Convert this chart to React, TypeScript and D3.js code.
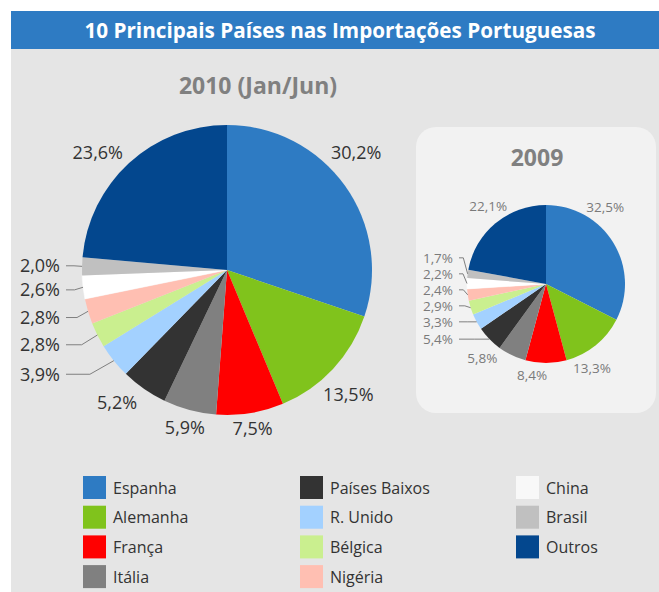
import React from "react";
import * as d3 from "d3";

const categories = [
  "Espanha",
  "Alemanha",
  "França",
  "Itália",
  "Países Baixos",
  "R. Unido",
  "Bélgica",
  "Nigéria",
  "China",
  "Brasil",
  "Outros",
];
const values2010 = [30.2, 13.5, 7.5, 5.9, 5.2, 3.9, 2.8, 2.8, 2.6, 2.0, 23.6];
const values2009 = [32.5, 13.3, 8.4, 5.8, 5.4, 3.3, 2.9, 2.4, 2.2, 1.7, 22.1];
const colors = [
  "#2e7bc3",
  "#80c31c",
  "#ff0000",
  "#808080",
  "#333333",
  "#a3d1ff",
  "#caef8f",
  "#ffbfb2",
  "#ffffff",
  "#c0c0c0",
  "#03478e",
];
const legendColors = colors.map((c) => (c === "#ffffff" ? "#f8f8f8" : c));
const title = "10 Principais Países nas Importações Portuguesas";
const subtitle2010 = "2010 (Jan/Jun)";
const subtitle2009 = "2009";

const FONT = "'Open Sans', 'Noto Sans', sans-serif";

const fmt = (v: number) => v.toFixed(1).replace(".", ",") + "%";

type PieProps = {
  values: number[];
  cx: number;
  cy: number;
  r: number;
  fs: number;
  textColor: string;
  leaderFrom: number;
  leaderK: number;
  gap: number;
  labelRight: number;
  nudge: number[];
  distA: number;
  distB: number;
};

function PieChart(p: PieProps) {
  const pie = d3
    .pie<number>()
    .sort(null)
    .value((d) => d);
  const arcs = pie(p.values);
  const arcGen = d3.arc<d3.PieArcDatum<number>>().innerRadius(0).outerRadius(p.r);

  const leaderIdx = arcs.map((_, i) => i).filter((i) => i >= p.leaderFrom && i < arcs.length - 1);
  const ly: Record<number, number> = {};
  const anchor: Record<number, [number, number]> = {};
  leaderIdx.forEach((i) => {
    const a = arcs[i];
    const mid = (a.startAngle + a.endAngle) / 2;
    const ax = p.cx + p.r * Math.sin(mid);
    const ay = p.cy - p.r * Math.cos(mid);
    anchor[i] = [ax, ay];
    ly[i] = p.cy + p.leaderK * (ay - p.cy);
  });
  for (let k = 1; k < leaderIdx.length; k++) {
    const i = leaderIdx[k];
    const prev = leaderIdx[k - 1];
    ly[i] = Math.min(ly[i], ly[prev] - p.gap);
  }

  return (
    <g>
      {arcs.map((a, i) => (
        <path
          key={i}
          d={arcGen(a) || ""}
          transform={`translate(${p.cx},${p.cy})`}
          fill={colors[i]}
          stroke={colors[i] === "#ffffff" ? "#ffffff" : "none"}
          strokeWidth={0.5}
        />
      ))}
      {arcs.map((a, i) => {
        if (leaderIdx.includes(i)) {
          const [ax, ay] = anchor[i];
          const y = ly[i];
          const sx = p.labelRight + 6;
          const ex = (sx + ax) / 2;
          return (
            <g key={"l" + i}>
              <polyline
                points={`${sx},${y} ${ex},${y} ${ax},${ay}`}
                fill="none"
                stroke="#7f7f7f"
                strokeWidth={1}
              />
              <text
                x={p.labelRight}
                y={y + p.fs * 0.36}
                textAnchor="end"
                fontSize={p.fs}
                fill={p.textColor}
                fontFamily={FONT}
              >
                {fmt(p.values[i])}
              </text>
            </g>
          );
        }
        const mid = (a.startAngle + a.endAngle) / 2 + ((p.nudge[i] || 0) * Math.PI) / 180;
        const dist = p.r + p.distA + p.distB * Math.abs(Math.sin(mid));
        const x = p.cx + dist * Math.sin(mid);
        const y = p.cy - dist * Math.cos(mid);
        return (
          <text
            key={"t" + i}
            x={x}
            y={y + p.fs * 0.36}
            textAnchor="middle"
            fontSize={p.fs}
            fill={p.textColor}
            fontFamily={FONT}
          >
            {fmt(p.values[i])}
          </text>
        );
      })}
    </g>
  );
}

export default function App() {
  const W = 659;
  const H = 592;
  const legendCols = [
    { x: 83, items: [0, 1, 2, 3] },
    { x: 300, items: [4, 5, 6, 7] },
    { x: 516, items: [8, 9, 10] },
  ];
  const rowY = d3.scaleLinear().domain([0, 1]).range([476, 505.7]);
  return (
    <svg
      width={W}
      height={H}
      style={{ position: "absolute", left: 0, top: 0, display: "block" }}
    >
      <rect x={0} y={0} width={W} height={H} fill="#ffffff" />
      <rect x={11} y={49} width={W - 11} height={H - 49} fill="#e5e5e5" />
      <rect x={11} y={11} width={W - 11} height={38} fill="#2e7bc3" />
      <text
        x={340}
        y={37.5}
        textAnchor="middle"
        fontSize={20.7}
        fontWeight={700}
        fill="#ffffff"
        fontFamily={FONT}
      >
        {title}
      </text>

      <text
        x={258}
        y={94}
        textAnchor="middle"
        fontSize={23}
        fontWeight={700}
        fill="#808080"
        fontFamily={FONT}
      >
        {subtitle2010}
      </text>

      <PieChart
        values={values2010}
        cx={227}
        cy={270}
        r={145}
        fs={18}
        textColor="#333333"
        leaderFrom={5}
        leaderK={1.15}
        gap={23}
        labelRight={60}
        nudge={[-6.7, 2.7, 0, 0, 4.7, 0, 0, 0, 0, 0, -5.2]}
        distA={12}
        distB={24}
      />

      <rect x={416} y={127} width={240} height={286} rx={20} ry={20} fill="#f2f2f2" />
      <text
        x={537}
        y={166}
        textAnchor="middle"
        fontSize={23}
        fontWeight={700}
        fill="#808080"
        fontFamily={FONT}
      >
        {subtitle2009}
      </text>
      <PieChart
        values={values2009}
        cx={546}
        cy={284}
        r={79}
        fs={13.5}
        textColor="#7a7a7a"
        leaderFrom={4}
        leaderK={1.0}
        gap={16}
        labelRight={453}
        nudge={[-21, 10.4, 8.7, 15, 0, 0, 0, 0, 0, 0, 3.3]}
        distA={11}
        distB={12}
      />

      {legendCols.map((col, ci) =>
        col.items.map((idx, ri) => {
          const y = rowY(ri);
          return (
            <g key={`${ci}-${ri}`}>
              <rect x={col.x} y={y} width={23} height={23} fill={legendColors[idx]} />
              <text
                x={col.x + 30}
                y={y + 17.5}
                fontSize={16}
                fill="#333333"
                fontFamily={FONT}
              >
                {categories[idx]}
              </text>
            </g>
          );
        })
      )}
    </svg>
  );
}
